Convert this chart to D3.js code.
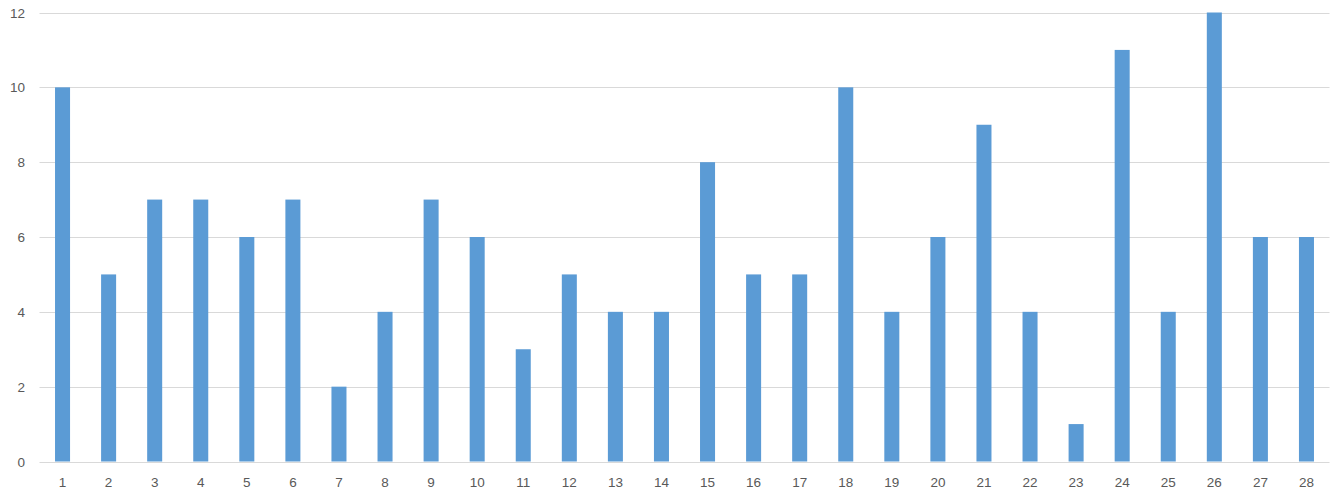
<!DOCTYPE html>
<html><head><meta charset="utf-8">
<script src="https://cdn.jsdelivr.net/npm/d3@7"></script>
<style>body{margin:0;background:#fff}svg text{font-family:"Liberation Sans",Arial,sans-serif;fill:#595959;font-size:13.5px}</style>
</head><body>
<svg id="c" width="1344" height="500"></svg>
<script>
const categories = ["1","2","3","4","5","6","7","8","9","10","11","12","13","14","15","16","17","18","19","20","21","22","23","24","25","26","27","28"];
const values = [10,5,7,7,6,7,2,4,7,6,3,5,4,4,8,5,5,10,4,6,9,4,1,11,4,12,6,6];
const yTicks = [0,2,4,6,8,10,12];

const svg = d3.select("#c");
const x = d3.scaleBand().domain(categories).range([39.5,1329.5]).paddingInner(0.674).paddingOuter(0.337);
const y = d3.scaleLinear().domain([0,12]).range([461.5,12.5]);

svg.append("g").selectAll("line").data(yTicks).join("line")
  .attr("x1",39.5).attr("x2",1329.5)
  .attr("y1",d=>Math.round(y(d))+0.5).attr("y2",d=>Math.round(y(d))+0.5)
  .attr("stroke","#d9d9d9").attr("stroke-width",1);

svg.append("g").selectAll("text").data(yTicks).join("text")
  .attr("x",25).attr("y",d=>y(d)+5).attr("text-anchor","end").text(d=>d);

svg.append("g").selectAll("rect").data(values).join("rect")
  .attr("x",(d,i)=>x(categories[i])).attr("width",x.bandwidth())
  .attr("y",d=>y(d)).attr("height",d=>y(0)-y(d)).attr("fill","#5b9bd5");

svg.append("g").selectAll("text").data(categories).join("text")
  .attr("x",d=>x(d)+x.bandwidth()/2).attr("y",487).attr("text-anchor","middle").text(d=>d);
</script>
</body></html>
